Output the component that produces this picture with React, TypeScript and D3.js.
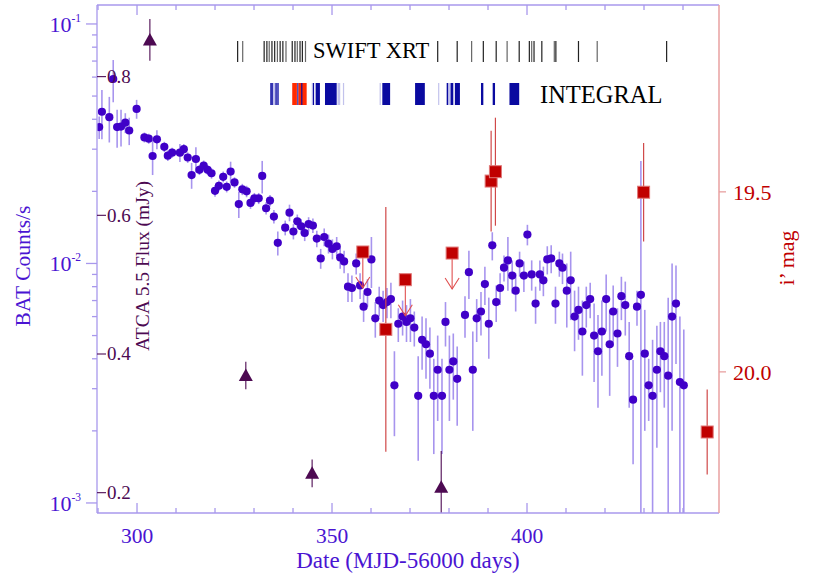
import React from 'react';
import * as d3 from 'd3';

// ---------- DATA ----------
const batDay = [290.3,291.0,292.9,293.9,294.9,295.9,297.0,298.0,299.9,301.9,303.0,304.0,305.1,307.0,307.9,309.0,311.0,312.0,313.0,314.0,315.1,316.0,317.1,318.1,319.1,320.0,321.0,322.1,323.0,324.0,325.0,326.1,327.0,328.1,329.1,330.1,331.2,332.1,333.1,334.1,335.1,336.1,338.0,339.1,340.1,341.1,342.1,343.0,344.0,345.1,346.1,347.1,348.0,349.1,350.1,351.2,352.1,353.1,354.1,355.1,356.2,357.2,358.1,359.1,360.1,361.1,362.1,363.1,364.1,365.1,366.0,367.0,368.1,369.1,370.1,371.1,372.1,373.1,374.1,375.1,376.1,377.1,378.2,379.1,380.1,381.1,382.1,384.1,385.1,386.1,387.1,388.2,389.2,390.2,391.1,392.1,393.1,394.1,395.1,396.2,397.1,398.1,399.2,400.1,401.2,402.2,403.3,404.2,405.2,406.2,407.3,408.3,409.1,410.2,411.2,412.2,413.2,414.2,415.2,416.2,417.2,418.2,419.2,420.3,421.2,422.1,423.2,424.2,425.2,426.2,427.2,428.2,429.2,430.2,431.2,432.2,433.3,434.2,435.2,436.2,437.2,438.2,439.2,440.2];
const batRate = [0.0371,0.0430,0.0408,0.0589,0.0371,0.0373,0.0387,0.0359,0.0442,0.0336,0.0332,0.0281,0.0330,0.0307,0.0282,0.0290,0.0290,0.0300,0.0277,0.0234,0.0273,0.0246,0.0256,0.0246,0.0238,0.0201,0.0211,0.0230,0.0209,0.0242,0.0218,0.0177,0.0204,0.0200,0.0179,0.0187,0.0187,0.0232,0.0170,0.0183,0.0157,0.0122,0.0141,0.0163,0.0136,0.0150,0.0143,0.0134,0.0146,0.0144,0.0127,0.0105,0.0129,0.0121,0.0115,0.0118,0.0106,0.0102,0.0080,0.0079,0.0100,0.0081,0.0066,0.0076,0.0104,0.0059,0.0070,0.0067,0.0069,0.0071,0.0031,0.0056,0.0060,0.0057,0.0059,0.0054,0.0028,0.0048,0.0046,0.0042,0.0028,0.0036,0.0028,0.0057,0.0036,0.0039,0.0033,0.0061,0.0092,0.0036,0.0059,0.0063,0.0082,0.0056,0.0119,0.0069,0.0079,0.0096,0.0103,0.0089,0.0077,0.0100,0.0089,0.0132,0.0090,0.0068,0.0090,0.0085,0.0104,0.0105,0.0068,0.0100,0.0096,0.0077,0.0085,0.0060,0.0064,0.0052,0.0067,0.0071,0.0050,0.0043,0.0052,0.0071,0.0046,0.0063,0.0051,0.0073,0.0067,0.0041,0.0027,0.0066,0.0074,0.0042,0.0031,0.0028,0.0036,0.0043,0.0041,0.0034,0.0060,0.0068,0.0032,0.0031];
const batErr = [0.0040,0.0100,0.0088,0.0118,0.0067,0.0065,0.0037,0.0047,0.0040,0.0016,0.0016,0.0047,0.0030,0.0015,0.0014,0.0014,0.0025,0.0015,0.0014,0.0029,0.0033,0.0012,0.0013,0.0012,0.0012,0.0011,0.0011,0.0012,0.0011,0.0024,0.0011,0.0022,0.0011,0.0011,0.0010,0.0010,0.0010,0.0036,0.0010,0.0010,0.0010,0.0014,0.0010,0.0013,0.0010,0.0010,0.0010,0.0010,0.0010,0.0010,0.0010,0.0010,0.0011,0.0011,0.0011,0.0011,0.0011,0.0011,0.0011,0.0010,0.0010,0.0010,0.0009,0.0010,0.0025,0.0010,0.0010,0.0010,0.0010,0.0012,0.0012,0.0009,0.0010,0.0010,0.0012,0.0009,0.0013,0.0012,0.0013,0.0012,0.0012,0.0014,0.0012,0.0012,0.0014,0.0012,0.0012,0.0012,0.0021,0.0016,0.0012,0.0013,0.0015,0.0016,0.0016,0.0012,0.0012,0.0012,0.0026,0.0014,0.0014,0.0012,0.0013,0.0013,0.0013,0.0012,0.0013,0.0012,0.0014,0.0014,0.0012,0.0012,0.0014,0.0023,0.0027,0.0017,0.0016,0.0018,0.0013,0.0012,0.0018,0.0018,0.0018,0.0019,0.0018,0.0018,0.0014,0.0015,0.0017,0.0016,0.00125,0.0011,0.0194,0.0022,0.0009,0.0020,0.0019,0.0014,0.0016,0.0038,0.0040,0.0030,0.0028,0.0022];

const atcaDay = [303.3, 327.9, 344.9, 378.0];
const atcaFlux = [0.853, 0.369, 0.228, 0.208];
const atcaErr = [0.030, 0.020, 0.020, 0.052];

const magDay = [363.8, 390.8, 391.9, 429.9, 446.2];
const magVal = [19.882, 19.470, 19.444, 19.501, 20.167];
const magErr = [0.34, 0.14, 0.15, 0.137, 0.118];

const magLimDay = [357.9, 368.8, 380.8];
const magLimVal = [19.667, 19.744, 19.670];

const xrtDay = [325.8,327.1,332.6,333.3,333.9,334.6,335.3,336.0,336.7,337.4,338.2,339.8,340.5,341.1,341.8,342.4,343.2,377.1,382.1,385.8,388.8,392.1,394.9,398.0,400.6,401.2,401.8,403.8,407.0,407.4,413.2,418.0,435.8];

const intStart = [334.1,334.2,334.5,335.5,336.0,339.8,341.1,341.4,342.1,344.8,345.1,345.8,348.2,351.4,352.8,362.2,362.9,371.3,377.2,379.4,379.8,380.4,381.5,388.2,391.2,395.5];
const intEnd   = [336.3,334.4,334.6,335.7,336.2,341.0,341.3,343.5,342.25,345.0,345.4,346.9,351.2,352.1,352.95,362.4,364.9,373.8,377.4,379.8,380.4,381.1,382.8,388.8,391.8,398.0];
const intKind  = ['f','b','b','b','b','r','b','r','b','f','b','b','b','f','f','f','b','b','f','b','f','b','b','b','b','b'];

const xMajorTicks = [300, 350, 400];
const batDecades = [1e-1, 1e-2, 1e-3];
const batDecadeExp = ['-1', '-2', '-3'];
const atcaTicks = [0.2, 0.4, 0.6, 0.8];
const atcaTickLabels = ['0.2', '0.4', '0.6', '0.8'];
const magTicks = [19.5, 20.0];
const magTickLabels = ['19.5', '20.0'];

// ---------- LAYOUT ----------
const W = 817, H = 584;
const L = 97, R = 719, T = 5, B = 513;
const FONT = "'Liberation Serif', 'DejaVu Serif', serif";
const VIOLET = '#4a14d2';
const AXIS_VIOLET = '#a898ec';
const PURPLE = '#4d0a52';
const RED = '#c00000';

export default function App() {
  const x = d3.scaleLinear().domain([289.74, 449.23]).range([L, R]);
  const yBat = d3.scaleLog().domain([0.000908, 0.12]).range([B, T]);
  const yAtca = d3.scaleLinear().domain([0.1707, 0.9033]).range([B, T]);
  const yMag = d3.scaleLinear().domain([18.981, 20.392]).range([T, B]);

  const xMinor = x.ticks(15).filter(v => !xMajorTicks.includes(v));
  const batMinor = yBat.ticks().filter(v => {
    const l = Math.log10(v);
    return Math.abs(l - Math.round(l)) > 1e-6;
  });

  const [d0, d1] = yBat.domain();
  const clampBat = (v: number) => Math.max(d0, Math.min(d1, v));

  const tri = (cx: number, cy: number) =>
    `M${cx},${cy - 7} L${cx + 7},${cy + 5.5} L${cx - 7},${cy + 5.5} Z`;

  return (
    <svg width={W} height={H} style={{ position: 'absolute', left: 0, top: 0, background: '#fff' }}
      fontFamily={FONT}>
      <defs>
        <clipPath id="plot"><rect x={L} y={T} width={R - L} height={B - T} /></clipPath>
      </defs>
      <rect x={0} y={0} width={W} height={H} fill="#fff" />

      {/* XRT marks */}
      <g>
        {xrtDay.map((d, i) => (
          <line key={i} x1={x(d)} x2={x(d)} y1={41} y2={62} stroke={i % 3 === 1 ? '#666' : '#222'} strokeWidth={1.2} />
        ))}
        <text x={313} y={58} fontSize={22.5} fill="#000">SWIFT XRT</text>
      </g>
      {/* INTEGRAL */}
      <g>
        {intStart.map((s, i) => {
          const k = intKind[i];
          const fill = k === 'r' ? '#ff2a00' : k === 'b' ? '#0a0aa0' : '#9a9ae0';
          const w = Math.max(1.2, x(intEnd[i]) - x(s));
          return <rect key={i} x={x(s)} y={83} width={w} height={22} fill={fill} opacity={k === 'f' ? 0.6 : 1} />;
        })}
        <text x={540} y={103} fontSize={24.5} fill="#000">INTEGRAL</text>
      </g>

      <g clipPath="url(#plot)">
        {/* BAT error bars */}
        {batDay.map((d, i) => (
          <line key={'e' + i} x1={x(d)} x2={x(d)}
            y1={yBat(clampBat(batRate[i] + batErr[i]))}
            y2={yBat(clampBat(batRate[i] - batErr[i]))}
            stroke="#8a70e8" strokeOpacity={0.75} strokeWidth={1.6} />
        ))}
        {batDay.map((d, i) => (
          <circle key={'p' + i} cx={x(d)} cy={yBat(batRate[i])} r={4.1} fill="#4000c8" />
        ))}

        {/* i' mag detections */}
        {magDay.map((d, i) => (
          <line key={'me' + i} x1={x(d)} x2={x(d)} y1={yMag(magVal[i] - magErr[i])} y2={yMag(magVal[i] + magErr[i])}
            stroke="#d04848" strokeWidth={1.2} />
        ))}
        {/* upper limits */}
        {magLimDay.map((d, i) => {
          const cx = x(d), cy = yMag(magLimVal[i]);
          const tip = cy + 36;
          return (
            <g key={'ml' + i} stroke="#e05050" strokeWidth={1.1} fill="none">
              <line x1={cx} x2={cx} y1={cy} y2={tip} />
              <polyline points={`${cx - 7},${tip - 11} ${cx},${tip} ${cx + 7},${tip - 11}`} />
            </g>
          );
        })}

        {/* ATCA */}
        {atcaDay.map((d, i) => (
          <line key={'ae' + i} x1={x(d)} x2={x(d)} y1={yAtca(atcaFlux[i] + atcaErr[i])} y2={yAtca(atcaFlux[i] - atcaErr[i])}
            stroke={PURPLE} strokeWidth={1.1} />
        ))}
        {atcaDay.map((d, i) => (
          <path key={'at' + i} d={tri(x(d), yAtca(atcaFlux[i]))} fill={PURPLE} />
        ))}

        {magDay.map((d, i) => (
          <rect key={'ms' + i} x={x(d) - 6} y={yMag(magVal[i]) - 6} width={12} height={12} fill={RED} stroke="#e07878" strokeWidth={1} />
        ))}
        {magLimDay.map((d, i) => (
          <rect key={'mls' + i} x={x(d) - 6} y={yMag(magLimVal[i]) - 6} width={12} height={12} fill={RED} stroke="#e07878" strokeWidth={1} />
        ))}
      </g>

      {/* Frame */}
      <line x1={L} x2={R} y1={T} y2={T} stroke={AXIS_VIOLET} strokeWidth={1.3} />
      <line x1={L} x2={R} y1={B} y2={B} stroke={AXIS_VIOLET} strokeWidth={1.3} />
      <line x1={L} x2={L} y1={T} y2={B} stroke={AXIS_VIOLET} strokeWidth={1.3} />
      <line x1={R} x2={R} y1={T} y2={B} stroke="#e8a0a0" strokeWidth={1.5} />

      {/* X ticks */}
      {xMajorTicks.map(v => (
        <g key={'xM' + v}>
          <line x1={x(v)} x2={x(v)} y1={B} y2={B - 10} stroke={AXIS_VIOLET} strokeWidth={1.3} />
          <line x1={x(v)} x2={x(v)} y1={T} y2={T + 10} stroke={AXIS_VIOLET} strokeWidth={1.3} />
          <text x={x(v)} y={543} textAnchor="middle" fontSize={21.5} fill={VIOLET}>{v}</text>
        </g>
      ))}
      {xMinor.map(v => (
        <g key={'xm' + v}>
          <line x1={x(v)} x2={x(v)} y1={B} y2={B - 5} stroke={AXIS_VIOLET} strokeWidth={1.3} />
          <line x1={x(v)} x2={x(v)} y1={T} y2={T + 5} stroke={AXIS_VIOLET} strokeWidth={1.3} />
        </g>
      ))}
      <text x={408} y={568} textAnchor="middle" fontSize={23} fill={VIOLET}>Date (MJD-56000 days)</text>

      {/* Left BAT axis */}
      {batDecades.map((v, i) => (
        <g key={'by' + v}>
          <line x1={L} x2={L - 11} y1={yBat(v)} y2={yBat(v)} stroke={AXIS_VIOLET} strokeWidth={1.3} />
          <text x={81} y={yBat(v) + 8} textAnchor="end" fontSize={22} fill={VIOLET}>
            10<tspan fontSize={11.5} dy={-10}>{batDecadeExp[i]}</tspan>
          </text>
        </g>
      ))}
      {batMinor.map(v => (
        <line key={'bm' + v} x1={L} x2={L - 5} y1={yBat(v)} y2={yBat(v)} stroke={AXIS_VIOLET} strokeWidth={1.3} />
      ))}
      <text transform="translate(30,266) rotate(-90)" textAnchor="middle" fontSize={21.5} fill={VIOLET}>BAT Counts/s</text>

      {/* ATCA axis (inner) */}
      {atcaTicks.map((v, i) => (
        <g key={'at' + v}>
          <line x1={L} x2={L + 9} y1={yAtca(v)} y2={yAtca(v)} stroke={PURPLE} strokeWidth={1.1} />
          <text x={107} y={yAtca(v) + 6.5} fontSize={19} fill={PURPLE}>{atcaTickLabels[i]}</text>
        </g>
      ))}
      <text transform="translate(149,266) rotate(-90)" textAnchor="middle" fontSize={19.5} fill={PURPLE}>ATCA 5.5 Flux (mJy)</text>

      {/* Right mag axis */}
      {magTicks.map((v, i) => (
        <g key={'mt' + v}>
          <line x1={R} x2={R + 7} y1={yMag(v)} y2={yMag(v)} stroke="#e8a0a0" strokeWidth={1.3} />
          <text x={733} y={yMag(v) + 8} fontSize={22} fill={RED}>{magTickLabels[i]}</text>
        </g>
      ))}
      <text transform="translate(794,258) rotate(-90)" textAnchor="middle" fontSize={22} fill={RED}>i’ mag</text>
    </svg>
  );
}
